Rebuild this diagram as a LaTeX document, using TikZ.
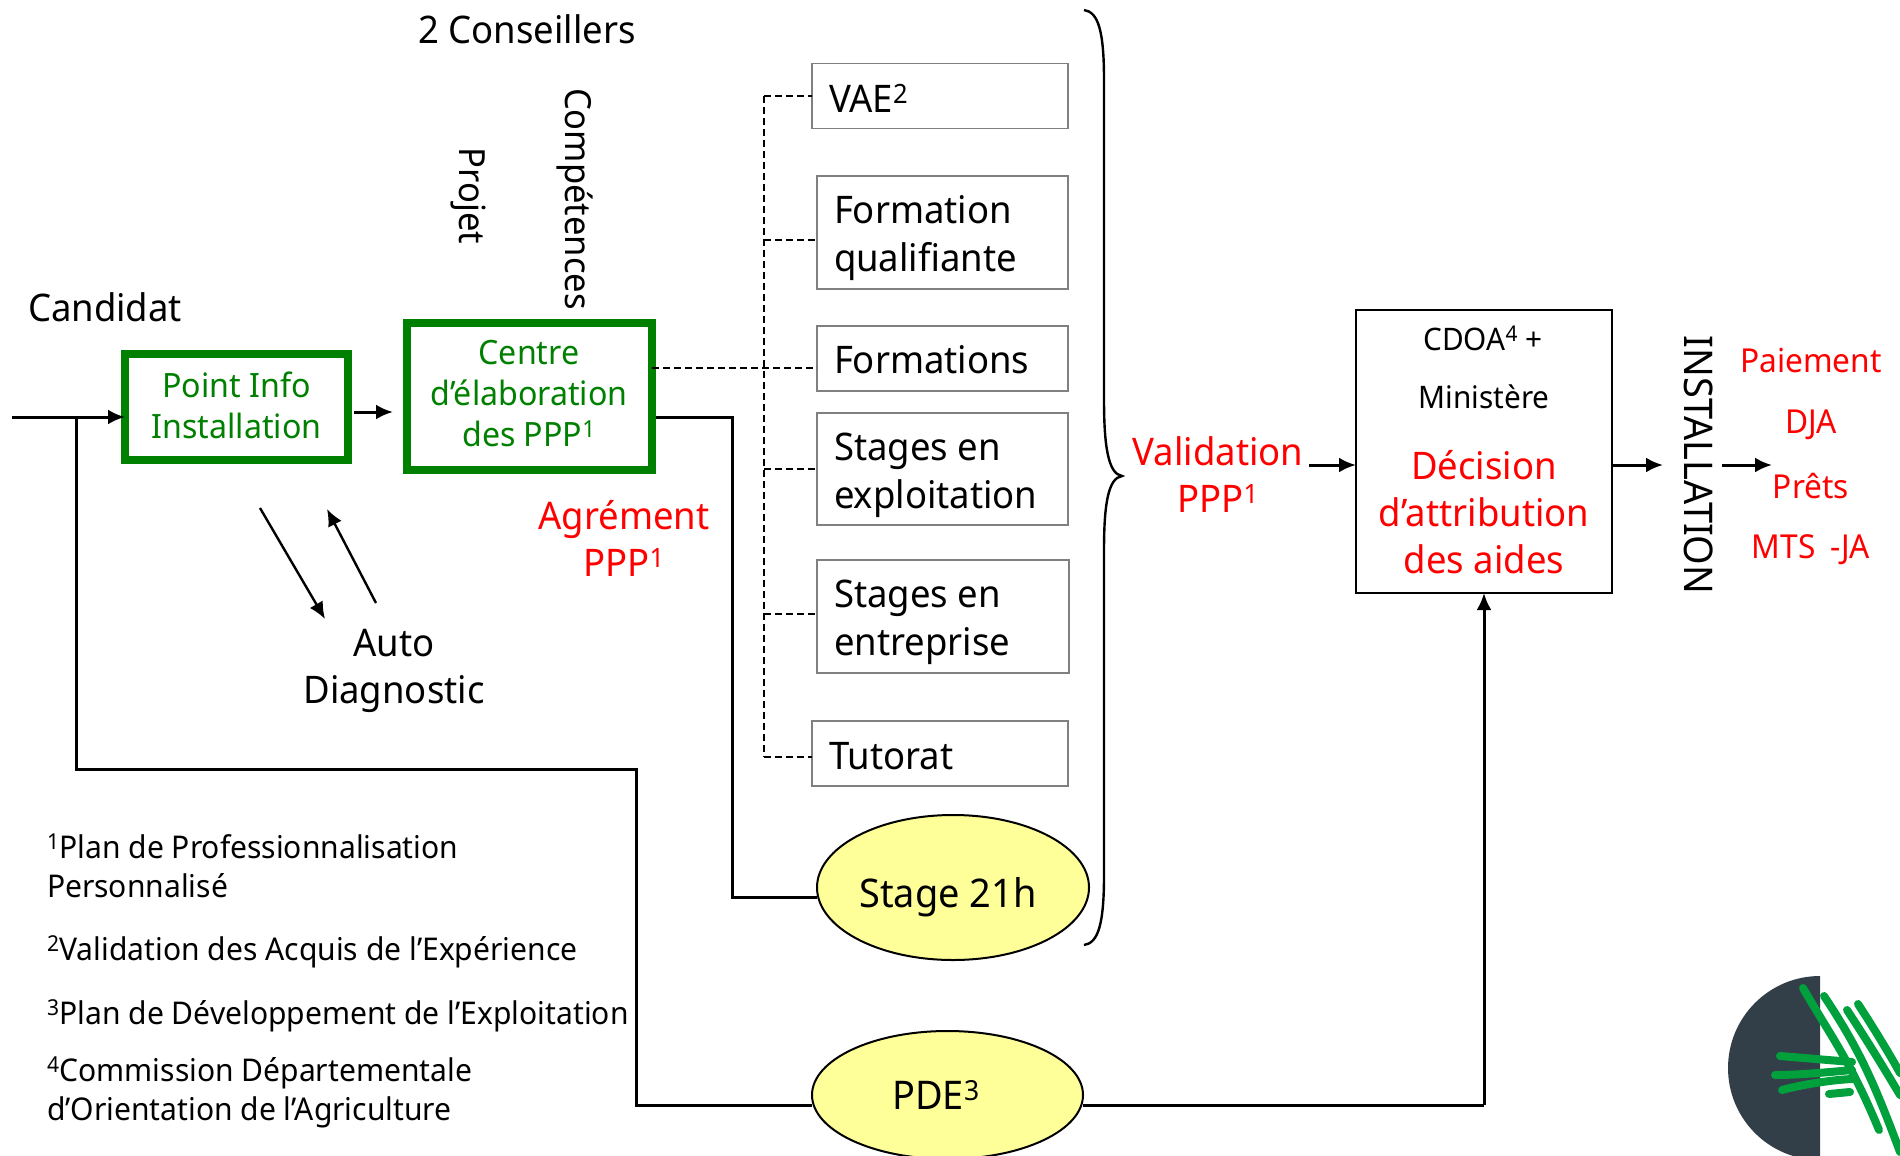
\documentclass[tikz,border=0pt]{standalone}
\usepackage{fontspec}
\setmainfont[FakeStretch=0.96]{Noto Sans}
\usetikzlibrary{arrows.meta,shapes.geometric,calc}
\definecolor{pgreen}{HTML}{008000}
\definecolor{pyellow}{HTML}{FFFF99}
\definecolor{logodark}{HTML}{333F48}
\definecolor{logogreen}{HTML}{00A03C}
\newcommand{\fs}[2]{\fontsize{#1}{#2}\selectfont}
\newcommand{\sps}[1]{\textsuperscript{#1}}
\tikzset{
  txt/.style={inner sep=0pt,outer sep=0pt,align=center,font=\fs{38}{47}},
  redtxt/.style={txt,text=red},
  smalltxt/.style={inner sep=0pt,outer sep=0pt,align=left,font=\fs{31.3}{39}},
  sidetxt/.style={inner sep=0pt,text=red,font=\fs{33}{39}},
  greenbox/.style={draw=pgreen,line width=8pt,fill=white,inner sep=0pt,outer sep=0pt},
  greenlabel/.style={inner sep=0pt,outer sep=0pt,align=center,text=pgreen,font=\fs{33.5}{41}},
  graybox/.style={draw=black!50,line width=1.4pt,fill=white,inner sep=0pt,outer sep=0pt},
  boxlabel/.style={inner sep=0pt,outer sep=0pt,anchor=west,align=left,font=\fs{38}{48}},
  blackbox/.style={draw=black,line width=2pt,fill=white,inner sep=0pt,outer sep=0pt},
  yell/.style={ellipse,draw=black,line width=2pt,fill=pyellow,inner sep=0pt,outer sep=0pt},
  ylabel/.style={inner sep=0pt,outer sep=0pt,font=\fs{39.5}{47}},
  conn/.style={draw=black,line width=3pt},
  thin conn/.style={draw=black,line width=2.4pt},
  arr/.style={conn,-{Latex[length=17pt,width=15pt]}},
  dash conn/.style={draw=black,line width=1.6pt,dash pattern=on 7pt off 4pt},
  leaf/.style={logogreen,line width=8pt,line cap=round}
}
\begin{document}
\begin{tikzpicture}[x=1pt,y=-1pt]
\useasboundingbox (0,0) rectangle (1900,1156);
% boxes
\node[greenbox,minimum width=223pt,minimum height=106pt] (pi) at (236.5,407) {};
\node[greenbox,minimum width=245pt,minimum height=147pt] (ce) at (529.5,396.5) {};
\node[graybox,minimum width=256pt,minimum height=65pt] (vae) at (940,96) {};
\node[graybox,minimum width=251pt,minimum height=113pt] (fq) at (942.5,232.5) {};
\node[graybox,minimum width=251pt,minimum height=65pt] (fo) at (942.5,358.5) {};
\node[graybox,minimum width=251pt,minimum height=112pt] (se) at (942.5,469) {};
\node[graybox,minimum width=252pt,minimum height=113pt] (sn) at (943,616.5) {};
\node[graybox,minimum width=256pt,minimum height=65pt] (tu) at (940,753.5) {};
\node[yell,minimum width=272pt,minimum height=145pt] (st) at (953,887.5) {};
\node[yell,minimum width=271pt,minimum height=128pt] (pd) at (947.5,1095) {};
\node[blackbox,minimum width=256pt,minimum height=283pt] (cd) at (1484,451.5) {};
% box labels
\node[greenlabel] (tpi) at (236.5,405.5) {Point Info\\Installation};
\node[greenlabel] (tce) at (529,393.5) {Centre\\d’élaboration\\des PPP\sps{1}};
\node[boxlabel] (tvae) at (829,98.5) {VAE\sps{2}};
\node[boxlabel] (tfq) at (834,238.5) {Formation\\qualifiante};
\node[boxlabel] (tfo) at (834,359.5) {Formations};
\node[boxlabel] (tse) at (834,475.5) {Stages en\\exploitation};
\node[boxlabel] (tsn) at (834,622.5) {Stages en\\entreprise};
\node[boxlabel] (ttu) at (829,756) {Tutorat};
\node[ylabel] (tst) at (948,897) {Stage 21h};
\node[ylabel] (tpd) at (936,1095) {PDE\sps{3}};
% free ends and junctions
\coordinate (in) at (12,417);
\coordinate (jn) at (76,417);
\coordinate (ja) at (76,769);
\coordinate (jb) at (636,769);
\coordinate (jc) at (636,1105);
\coordinate (jd) at (812,1105);
\coordinate (je) at (1083,1105);
\coordinate (jf) at (1484,1105);
\coordinate (ga) at (656,417);
\coordinate (gb) at (732,417);
\coordinate (gc) at (732,897);
\coordinate (gd) at (817,897);
\coordinate (da) at (764,96);
\coordinate (db) at (764,757);
% solid connectors
\draw[arr] (in) -- (in -| pi.west);
\draw[conn] (jn) -- (ja) -- (jb) -- (jc) -- (jd);
\draw[conn] (je) -- (jf);
\draw[arr] (jf) -- (cd.south);
\draw[conn] (ga) -- (gb) -- (gc) -- (gd);
\coordinate (pa) at (354,412);
\coordinate (pb) at (393,412);
\draw[arr] (pa) -- (pb);
% dashed tree
\draw[dash conn] (da) -- (db);
\draw[dash conn] (da) -- (vae.west |- da);
\draw[dash conn] (764,240) -- (fq.west |- 764,240);
\draw[dash conn] (ce.east |- 0,368) -- (fo.west |- 0,368);
\draw[dash conn] (764,469) -- (se.west |- 764,469);
\draw[dash conn] (764,614) -- (sn.west |- 764,614);
\draw[dash conn] (db) -- (tu.west |- db);
% labels
\node[txt] (l1) at (527,29) {2 Conseillers};
\node[txt,rotate=-90,font=\fs{36}{47}] (l2) at (468,196) {Projet};
\node[txt,rotate=-90,font=\fs{36}{47}] (l3) at (575,199) {Compétences};
\node[txt] (l4) at (105,307) {Candidat};
\node[redtxt] (l5) at (624,538.5) {Agrément\\PPP\sps{1}};
\node[txt] (l6) at (394,671) {Auto\\Diagnostic};
\node[redtxt] (l7) at (1218,475) {Validation\\PPP\sps{1}};
\node[inner sep=0pt,font=\fs{31}{39}] (l8) at (1483,338) {CDOA\sps{4} +};
\node[inner sep=0pt,font=\fs{31}{39}] (l9) at (1484,397) {Ministère};
\node[redtxt] (l10) at (1484,512) {Décision\\d’attribution\\des aides};
\node[txt,rotate=-90,font=\fs{39.5}{47}] (l11) at (1699,465) {INSTALLATION};
\node[sidetxt] (p1) at (1811,360.5) {Paiement};
\node[sidetxt] (p2) at (1811,425) {DJA};
\node[sidetxt] (p3) at (1811,486) {Prêts};
\node[sidetxt] (p4) at (1811,550) {MTS\hspace{7pt} -JA};
% thin arrows
\coordinate (a1) at (260,508);
\coordinate (a2) at (325,619);
\coordinate (a3) at (376,603);
\coordinate (a4) at (327,509);
\draw[arr,line width=2.4pt] (a1) -- (a2);
\draw[arr,line width=2.4pt] (a3) -- (a4);
\coordinate (v1) at (1309,465);
\draw[arr] (v1) -- (v1 -| cd.west);
\coordinate (v2) at (1663,465);
\draw[arr] (v2 -| cd.east) -- (v2);
\coordinate (v3) at (1722,465);
\coordinate (v4) at (1772,465);
\draw[arr] (v3) -- (v4);
% brace
\draw[thin conn] (1084,10) .. controls (1098,12) and (1104,30) .. (1104,80)
  -- (1104,400) .. controls (1104,445) and (1108,474) .. (1122,476)
  .. controls (1108,478) and (1104,505) .. (1104,550)
  -- (1104,875) .. controls (1104,925) and (1098,943) .. (1084,945);
% footnotes
\node[smalltxt,anchor=west] (f1) at (47,865.5) {\sps{1}Plan de Professionnalisation\\Personnalisé};
\node[smalltxt,anchor=west] (f2) at (47,951.5) {\sps{2}Validation des Acquis de l’Expérience};
\node[smalltxt,anchor=west] (f3) at (47,1015.5) {\sps{3}Plan de Développement de l’Exploitation};
\node[smalltxt,anchor=west] (f4) at (47,1092.5) {\sps{4}Commission Départementale\\d’Orientation de l’Agriculture};
% logo
\begin{scope}
\clip (1700,960) rectangle (1820,1156);
\fill[logodark] (1820,1068) circle[radius=92pt];
\end{scope}
\begin{scope}
\clip (1700,960) rectangle (1900,1156);
\draw[leaf] (1803,988) .. controls (1830,1035) and (1850,1060) .. (1879,1130);
\draw[leaf] (1824,996) .. controls (1860,1050) and (1875,1085) .. (1900,1152);
\draw[leaf] (1847,1010) .. controls (1870,1045) and (1885,1070) .. (1900,1095);
\draw[leaf] (1858,1004) .. controls (1875,1030) and (1890,1055) .. (1900,1073);
\draw[leaf] (1780,1056) -- (1852,1062);
\draw[leaf] (1775,1075) .. controls (1800,1075) and (1830,1072) .. (1852,1070);
\draw[leaf] (1782,1090) .. controls (1800,1085) and (1830,1080) .. (1852,1079);
\draw[leaf] (1829,1094) -- (1850,1092);
\end{scope}
\end{tikzpicture}
\end{document}
